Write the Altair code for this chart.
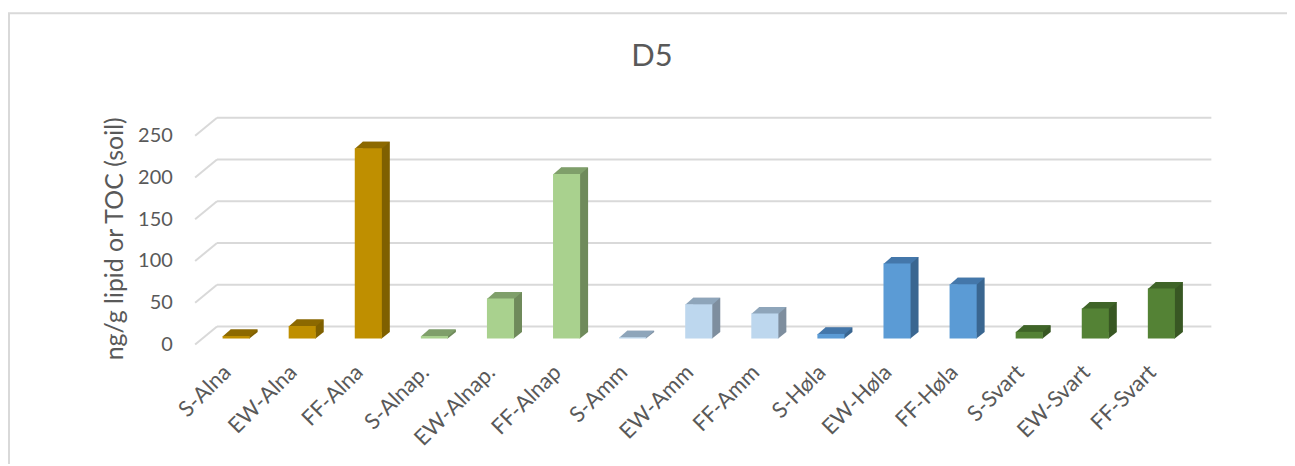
import altair as alt
import pandas as pd

# ---- data ----
categories = ["S-Alna", "EW-Alna", "FF-Alna", "S-Alnap.", "EW-Alnap.", "FF-Alnap",
              "S-Amm", "EW-Amm", "FF-Amm", "S-Høla", "EW-Høla", "FF-Høla",
              "S-Svart", "EW-Svart", "FF-Svart"]
values = [3, 15, 228, 3, 48, 197, 1.5, 41, 30, 5.5, 90, 65, 8, 36, 60]
sites = ["Alna"] * 3 + ["Alnap"] * 3 + ["Amm"] * 3 + ["Høla"] * 3 + ["Svart"] * 3
site_order = ["Alna", "Alnap", "Amm", "Høla", "Svart"]
y_ticks = [0, 50, 100, 150, 200, 250]
title_text = ["D5"]
y_title = "ng/g lipid or TOC (soil)"

# ---- styles ----
front_colors = ["#BF8F00", "#A9D18E", "#BDD7EE", "#5B9BD5", "#548235"]
top_colors = ["#8C6900", "#7F9F6A", "#8EA5BA", "#4477AA", "#3F6428"]
side_colors = ["#7F6000", "#6F8A5B", "#7E8E9E", "#3A6690", "#385723"]
FONT = "Lato"
GREY = "#595959"
GRID = "#D9D9D9"
W, H = 996, 209.7
HALF, DX, DY = 13.6, 8, 6.5

df = pd.DataFrame({"cat": categories, "val": values, "site": sites})
ticks_df = pd.DataFrame({"tick": y_ticks})

x_axis = alt.Axis(labelAngle=-45, labelAlign="right", labelBaseline="middle",
                  labelOffset=-9, labelPadding=30, labelFontSize=22, labelColor=GREY,
                  labelFont=FONT, domain=False, ticks=False, grid=False, title=None)
y_axis = alt.Axis(values=y_ticks, labelPadding=31, labelOffset=6, labelFontSize=20,
                  labelColor=GREY, labelFont=FONT, domain=False, ticks=False, grid=False,
                  title=y_title, titleFontSize=25, titleColor=GREY, titleFont=FONT,
                  titleFontWeight="normal", titleX=-89, titleY=109, titleAngle=270,
                  titleAlign="center", titleBaseline="middle")
x_scale = alt.Scale(paddingInner=0.59, paddingOuter=0.295)
y_scale = alt.Scale(domain=[0, 250], nice=False, zero=True)

x_enc = alt.X("cat:N", sort=categories, scale=x_scale, axis=x_axis)
y_val = alt.Y("val:Q", scale=y_scale, axis=y_axis)


def col(rng):
    return alt.Color("site:N", scale=alt.Scale(domain=site_order, range=rng), legend=None)


base = alt.Chart(df)

# border around the whole chart
border = alt.Chart(pd.DataFrame({"a": [0]})).mark_rect(
    fillOpacity=0, stroke=GRID, strokeWidth=2
).encode(x=alt.value(-195), y=alt.value(-117), x2=alt.value(1200), y2=alt.value(460))

# back-wall gridlines
grid_back = alt.Chart(ticks_df).mark_rule(color=GRID, strokeWidth=2, yOffset=-12).encode(
    y=alt.Y("tick:Q", scale=y_scale, axis=y_axis), x=alt.value(14), x2=alt.value(1013))

# left-wall diagonal gridlines
grid_wall = alt.Chart(ticks_df).mark_point(
    shape="M-8,6L14,-12", size=4, filled=False, stroke=GRID, strokeWidth=2, opacity=1
).encode(y=alt.Y("tick:Q", scale=y_scale, axis=y_axis), x=alt.value(0))

side = base.mark_bar(xOffset=DX, yOffset=-DY, y2Offset=-DY, opacity=1).encode(
    x=x_enc, y=y_val, color=col(side_colors))

side_tri = base.transform_calculate(base0="0").mark_point(
    shape=f"M{HALF-0.5},0.3L{HALF-0.5},-{DY}L{HALF+DX},-{DY}Z", size=4, filled=True,
    strokeWidth=0, opacity=1
).encode(x=x_enc, y=alt.Y("base0:Q", scale=y_scale, axis=y_axis), color=col(side_colors))

top = base.mark_point(
    shape=f"M-{HALF},0.5L-{HALF-DX},-{DY}L{HALF+DX},-{DY}L{HALF},0.5Z", size=4,
    filled=True, strokeWidth=0, opacity=1
).encode(x=x_enc, y=y_val, color=col(top_colors))

front = base.mark_bar(opacity=1).encode(x=x_enc, y=y_val, color=col(front_colors))

title = alt.Chart(pd.DataFrame({"t": title_text})).mark_text(
    font=FONT, fontSize=31, color=GREY, align="center", baseline="middle"
).encode(text="t:N", x=alt.value(451), y=alt.value(-73))

chart = alt.layer(border, grid_back, grid_wall, side, side_tri, top, front, title).resolve_scale(
    color="independent"
).properties(
    width=W, height=H,
    background="white",
    autosize=alt.AutoSizeParams(type="none"),
    padding={"left": 196, "top": 121.3, "right": 93, "bottom": 125},
).configure_view(strokeWidth=0, stroke=None)

chart.save("out.html", embed_options={"renderer": "svg", "actions": False})
